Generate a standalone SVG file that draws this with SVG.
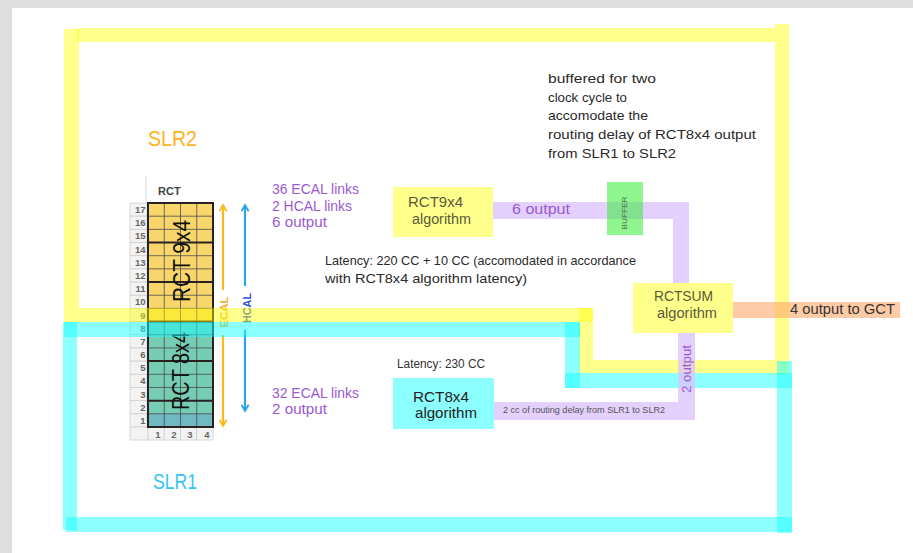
<svg xmlns="http://www.w3.org/2000/svg" width="913" height="553" viewBox="0 0 913 553">
<style>
text{font-family:"Liberation Sans",Arial,sans-serif}
.yel{fill:#ffff00;fill-opacity:0.45}
.cyn{fill:#1affff;fill-opacity:0.5}
.lav{fill:#dcc4fb;fill-opacity:0.8}
.pur{fill:#9b59d0;font-size:14px}
.note{fill:#2a2a2a;font-size:13px}
.olive{fill:#5a5a3c;font-size:14px}
.grid{stroke:#4a4a4a;stroke-width:0.8;fill:none}
.thick{stroke:#2a2020;stroke-width:2;fill:none}
.num{fill:#666;font-size:9.5px;font-weight:bold}
.cell{fill:#f3f3f3;stroke:#cfcfcf;stroke-width:0.8}
</style>
<defs>
<marker id="arrO" viewBox="0 0 10 10" refX="8" refY="5" markerWidth="9" markerHeight="9" markerUnits="userSpaceOnUse" orient="auto"><path d="M1,1 L8,5 L1,9" fill="none" stroke="#ffb81c" stroke-width="2"/></marker>
<marker id="arrB" viewBox="0 0 10 10" refX="8" refY="5" markerWidth="9" markerHeight="9" markerUnits="userSpaceOnUse" orient="auto"><path d="M1,1 L8,5 L1,9" fill="none" stroke="#2aa4e6" stroke-width="2"/></marker>
</defs>
<rect x="0" y="0" width="913" height="553" fill="#dedede"/>
<rect x="12" y="8" width="901" height="545" fill="#ffffff"/>

<!-- RCT table -->
<g id="rct-table">
<line x1="146" y1="176" x2="146" y2="203" stroke="#dddddd" stroke-width="1"/>
<text x="158" y="195" style="font-size:11px;font-weight:bold;fill:#444">RCT</text>
<g id="row-labels">
<rect class="cell" x="130" y="203" width="17" height="13.18"/>
<rect class="cell" x="130" y="216.18" width="17" height="13.18"/>
<rect class="cell" x="130" y="229.35" width="17" height="13.18"/>
<rect class="cell" x="130" y="242.53" width="17" height="13.18"/>
<rect class="cell" x="130" y="255.71" width="17" height="13.18"/>
<rect class="cell" x="130" y="268.88" width="17" height="13.18"/>
<rect class="cell" x="130" y="282.06" width="17" height="13.18"/>
<rect class="cell" x="130" y="295.24" width="17" height="13.18"/>
<rect class="cell" x="130" y="308.41" width="17" height="13.18"/>
<rect class="cell" x="130" y="321.59" width="17" height="13.18"/>
<rect class="cell" x="130" y="334.76" width="17" height="13.18"/>
<rect class="cell" x="130" y="347.94" width="17" height="13.18"/>
<rect class="cell" x="130" y="361.12" width="17" height="13.18"/>
<rect class="cell" x="130" y="374.29" width="17" height="13.18"/>
<rect class="cell" x="130" y="387.47" width="17" height="13.18"/>
<rect class="cell" x="130" y="400.65" width="17" height="13.18"/>
<rect class="cell" x="130" y="413.82" width="17" height="13.18"/>
<rect class="cell" x="130" y="427" width="18" height="13"/>
<rect class="cell" x="148" y="427" width="16.25" height="13"/>
<rect class="cell" x="164.25" y="427" width="16.25" height="13"/>
<rect class="cell" x="180.5" y="427" width="16.25" height="13"/>
<rect class="cell" x="196.75" y="427" width="16.25" height="13"/>
<g class="num" text-anchor="end">
<text x="145.5" y="213">17</text><text x="145.5" y="226.2">16</text><text x="145.5" y="239.4">15</text>
<text x="145.5" y="252.6">14</text><text x="145.5" y="265.7">13</text><text x="145.5" y="278.9">12</text>
<text x="145.5" y="292.1">11</text><text x="145.5" y="305.3">10</text><text x="145.5" y="318.5">9</text>
<text x="145.5" y="331.6">8</text><text x="145.5" y="344.8">7</text><text x="145.5" y="358">6</text>
<text x="145.5" y="371.2">5</text><text x="145.5" y="384.4">4</text><text x="145.5" y="397.5">3</text>
<text x="145.5" y="410.7">2</text><text x="145.5" y="423.9">1</text>
</g>
<g class="num" text-anchor="middle">
<text x="158" y="437.5">1</text><text x="174" y="437.5">2</text><text x="190" y="437.5">3</text><text x="207" y="437.5">4</text>
</g>
</g>
<rect x="148" y="203" width="65" height="118.59" fill="#f9d66c"/>
<rect x="148" y="321.59" width="65" height="105.41" fill="#76cdb4"/>
<rect x="148" y="413.82" width="65" height="13.18" fill="#6fb9c2"/>
<g class="grid">
<line x1="164.25" y1="203" x2="164.25" y2="427"/>
<line x1="180.5" y1="203" x2="180.5" y2="427"/>
<line x1="196.75" y1="203" x2="196.75" y2="427"/>
<path d="M148,216.18H213M148,229.35H213M148,255.71H213M148,268.88H213M148,295.24H213M148,308.41H213M148,334.76H213M148,347.94H213M148,374.29H213M148,387.47H213M148,413.82H213"/>
</g>
<g class="thick">
<rect x="148" y="203" width="65" height="224"/>
<path d="M148,242.53H213M148,282.06H213M148,321.59H213M148,361.12H213M148,400.65H213"/>
</g>
<text transform="translate(190,261) rotate(-90)" text-anchor="middle" textLength="82" lengthAdjust="spacingAndGlyphs" style="font-size:24px;fill:#111">RCT 9x4</text>
<text transform="translate(189,371) rotate(-90)" text-anchor="middle" textLength="78" lengthAdjust="spacingAndGlyphs" style="font-size:24px;fill:#111">RCT 8x4</text>
</g>

<!-- ECAL / HCAL arrows -->
<g id="calo-arrows">
<line x1="223" y1="290" x2="223" y2="205" stroke="#ffb81c" stroke-width="2.2" marker-end="url(#arrO)"/>
<line x1="223" y1="335" x2="223" y2="426" stroke="#ffb81c" stroke-width="2.2" marker-end="url(#arrO)"/>
<text transform="translate(228,312) rotate(-90)" text-anchor="middle" textLength="31" lengthAdjust="spacingAndGlyphs" style="font-size:11px;font-weight:bold;fill:#f2b22e">ECAL</text>
<line x1="245" y1="286" x2="245" y2="205" stroke="#2aa4e6" stroke-width="2.2" marker-end="url(#arrB)"/>
<line x1="245" y1="330" x2="245" y2="411" stroke="#2aa4e6" stroke-width="2.2" marker-end="url(#arrB)"/>
<text transform="translate(250.5,308) rotate(-90)" text-anchor="middle" textLength="30" lengthAdjust="spacingAndGlyphs" style="font-size:11px;font-weight:bold;fill:#2f55d6">HCAL</text>
</g>

<!-- SLR regions -->
<g id="slr2">
<rect class="yel" x="64" y="29" width="15" height="293"/>
<rect class="yel" x="77" y="28" width="698" height="14"/>
<rect class="yel" x="775" y="24" width="14" height="351"/>
<rect class="yel" x="79" y="308" width="514" height="14"/>
<rect class="yel" x="579" y="308" width="14" height="65"/>
<rect class="yel" x="593" y="360" width="182" height="13"/>
<text x="148" y="146" textLength="49" lengthAdjust="spacingAndGlyphs" style="font-size:22px;fill:#ffb21e">SLR2</text>
</g>
<g id="slr1">
<rect class="cyn" x="64" y="322" width="516" height="15"/>
<rect class="cyn" x="63" y="322" width="14" height="208"/>
<rect class="cyn" x="66" y="517" width="726" height="15"/>
<rect class="cyn" x="777" y="361" width="15" height="172"/>
<rect class="cyn" x="565" y="322" width="15" height="66"/>
<rect class="cyn" x="565" y="373" width="227" height="15"/>
<text x="153" y="489" textLength="44" lengthAdjust="spacingAndGlyphs" style="font-size:22px;fill:#35c6f5">SLR1</text>
</g>

<!-- connectors -->
<g id="connectors">
<rect class="lav" x="493" y="202" width="196" height="17"/>
<rect class="lav" x="673" y="219" width="16" height="64"/>
<rect class="lav" x="678" y="333" width="17" height="87"/>
<rect class="lav" x="494" y="402" width="184" height="18"/>
<rect x="733" y="302" width="167" height="16" fill="#ffa86a" fill-opacity="0.6"/>
<text class="pur" x="512" y="214" textLength="58" lengthAdjust="spacingAndGlyphs">6 output</text>
<text class="pur" transform="translate(691,369) rotate(-90)" text-anchor="middle" textLength="48" lengthAdjust="spacingAndGlyphs" style="font-size:13px">2 output</text>
<text x="503" y="413" textLength="162" lengthAdjust="spacingAndGlyphs" style="font-size:9px;fill:#555">2 cc of routing delay from SLR1 to SLR2</text>
<text x="790" y="314" textLength="105" lengthAdjust="spacingAndGlyphs" style="font-size:14px;fill:#333">4 output to GCT</text>
</g>

<!-- nodes -->
<g id="rct9x4-links">
<text class="pur" x="272" y="194" textLength="87" lengthAdjust="spacingAndGlyphs">36 ECAL links</text>
<text class="pur" x="272" y="211" textLength="80" lengthAdjust="spacingAndGlyphs">2 HCAL links</text>
<text class="pur" x="272" y="227" textLength="55" lengthAdjust="spacingAndGlyphs">6 output</text>
</g>
<g id="rct8x4-links">
<text class="pur" x="272" y="398" textLength="87" lengthAdjust="spacingAndGlyphs">32 ECAL links</text>
<text class="pur" x="272" y="414" textLength="55" lengthAdjust="spacingAndGlyphs">2 output</text>
</g>
<g id="rct9x4-algorithm">
<rect x="393" y="187" width="100" height="50" fill="#ffff8c"/>
<text class="olive" x="408" y="207" textLength="55" lengthAdjust="spacingAndGlyphs">RCT9x4</text>
<text class="olive" x="412" y="224" textLength="59" lengthAdjust="spacingAndGlyphs">algorithm</text>
</g>
<g id="latency-9x4">
<text class="note" x="325" y="265" textLength="311" lengthAdjust="spacingAndGlyphs">Latency: 220 CC + 10 CC (accomodated in accordance</text>
<text class="note" x="325" y="283" textLength="202" lengthAdjust="spacingAndGlyphs">with RCT8x4 algorithm latency)</text>
</g>
<g id="buffer">
<rect x="607" y="182" width="36" height="53" fill="#33ee33" fill-opacity="0.55"/>
<text transform="translate(627,213) rotate(-90)" text-anchor="middle" textLength="33" lengthAdjust="spacingAndGlyphs" style="font-size:8px;fill:#4f6a4f">BUFFER</text>
</g>
<g id="buffer-note">
<text class="note" x="548" y="83" textLength="108" lengthAdjust="spacingAndGlyphs">buffered for two</text>
<text class="note" x="548" y="102" textLength="79" lengthAdjust="spacingAndGlyphs">clock cycle to</text>
<text class="note" x="548" y="120" textLength="100" lengthAdjust="spacingAndGlyphs">accomodate the</text>
<text class="note" x="548" y="139" textLength="208" lengthAdjust="spacingAndGlyphs">routing delay of RCT8x4 output</text>
<text class="note" x="548" y="158" textLength="128" lengthAdjust="spacingAndGlyphs">from SLR1 to SLR2</text>
</g>
<g id="rctsum-algorithm">
<rect x="633" y="283" width="100" height="50" fill="#ffff8c"/>
<text class="olive" x="654" y="301" textLength="59" lengthAdjust="spacingAndGlyphs">RCTSUM</text>
<text class="olive" x="657" y="318" textLength="60" lengthAdjust="spacingAndGlyphs">algorithm</text>
</g>
<g id="rct8x4-algorithm">
<text x="397" y="368" textLength="88" lengthAdjust="spacingAndGlyphs" style="font-size:12px;fill:#333">Latency: 230 CC</text>
<rect x="393" y="378" width="101" height="51" fill="#8cffff"/>
<text x="413" y="402" textLength="56" lengthAdjust="spacingAndGlyphs" style="font-size:15px;fill:#222">RCT8x4</text>
<text x="415" y="418" textLength="62" lengthAdjust="spacingAndGlyphs" style="font-size:15px;fill:#222">algorithm</text>
</g>
</svg>
